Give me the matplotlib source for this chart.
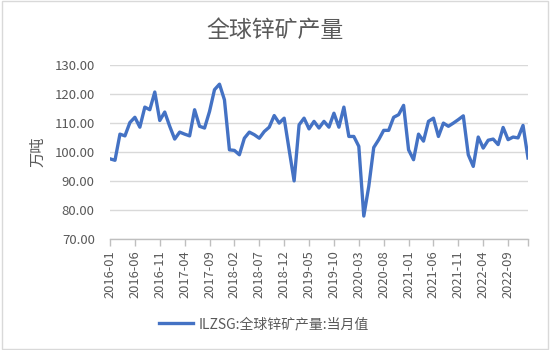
import matplotlib
matplotlib.use("Agg")
import matplotlib.pyplot as plt
from matplotlib.patches import Rectangle
import pandas as pd

plt.rcParams['font.family'] = ['Noto Sans CJK SC', 'DejaVu Sans']

title = "全球锌矿产量"
series_name = "ILZSG:全球锌矿产量:当月值"
y_label = "万吨"
months = [d.strftime("%Y-%m") for d in pd.date_range("2016-01-01", "2023-01-01", freq="MS")]
values = [97.7, 97.2, 106.2, 105.6, 110.2, 112.0, 108.6, 115.5, 114.6, 120.7,
          110.9, 113.8, 108.9, 104.5, 106.9, 106.2, 105.6, 114.6, 108.9, 108.3,
          114.0, 121.5, 123.4, 118.0, 100.8, 100.6, 99.1, 104.8, 106.9, 106.0,
          104.8, 107.1, 108.6, 112.6, 110.0, 111.7, 100.8, 90.1, 109.4, 111.7,
          108.0, 110.6, 108.3, 110.6, 108.6, 113.4, 108.6, 115.5, 105.4, 105.4,
          102.0, 78.0, 88.2, 101.6, 104.3, 107.5, 107.5, 112.0, 112.9, 116.1,
          100.8, 97.4, 106.2, 103.8, 110.6, 111.7, 105.4, 110.0, 108.9, 110.0,
          111.2, 112.5, 99.1, 95.1, 105.2, 101.4, 104.1, 104.5, 102.6, 108.5,
          104.3, 105.2, 104.9, 109.2, 98.0]
y_ticks = [70, 80, 90, 100, 110, 120, 130]

W, H = 550, 350
fig = plt.figure(figsize=(W / 100, H / 100), dpi=100)
fig.patches.append(Rectangle((0.004, 0.004), 0.992, 0.992, transform=fig.transFigure,
                             fill=False, edgecolor="#d9d9d9", linewidth=1.0))

ax = fig.add_axes([110 / W, 1 - 239.3 / H, (528 - 110) / W, (239.3 - 65) / H])
x = list(range(len(months)))
line, = ax.plot(x, values, color="#4472C4", linewidth=2.4, solid_joinstyle="round")

ax.set_ylim(70, 130)
ax.set_xlim(0, len(months) - 1)
ax.set_yticks(y_ticks)
ax.set_yticklabels([f"{v:.2f}" for v in y_ticks], fontsize=9.5, color="#595959")
ax.yaxis.grid(True, color="#d9d9d9", linewidth=1.0)
ax.set_axisbelow(True)
ax.tick_params(axis="y", length=0, pad=11)

tick_pos = list(range(0, len(months), 5))
ax.set_xticks(tick_pos)
ax.set_xticklabels([months[i] for i in tick_pos], rotation=90, fontsize=9.3, color="#595959")
ax.set_xticks([len(months) - 1], minor=True)
ax.tick_params(axis="x", which="both", length=5, color="#bfbfbf", width=1.0, pad=3)

for s in ["left", "right", "top"]:
    ax.spines[s].set_visible(False)
ax.spines["bottom"].set_color("#bfbfbf")
ax.spines["bottom"].set_linewidth(1.0)

fig.text(38 / W, 1 - 152 / H, y_label, rotation=90, ha="center", va="center",
         fontsize=11, color="#595959")
fig.text(275 / W, 1 - 30 / H, title, ha="center", va="center", fontsize=16.5, color="#595959")

leg = fig.legend([line], [series_name], loc="center", bbox_to_anchor=(264 / W, 1 - 324 / H),
                 frameon=False, fontsize=10, handlelength=2.5, handletextpad=0.4)
for t in leg.get_texts():
    t.set_color("#595959")

fig.savefig("out.png", dpi=100)
